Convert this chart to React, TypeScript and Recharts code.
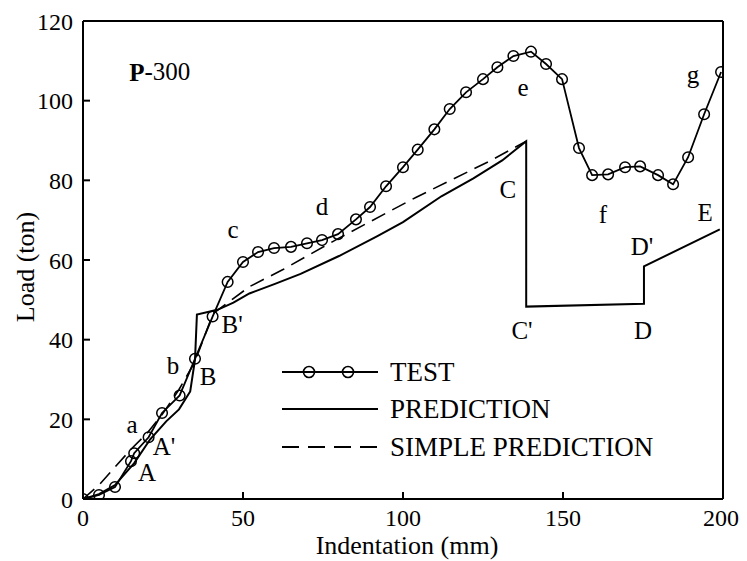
import React from 'react';
import { LineChart, Line, XAxis, YAxis, Legend, ReferenceDot } from 'recharts';

const FONT = 'Liberation Serif';

const xTicks = [0, 50, 100, 150, 200];
const yTicks = [0, 20, 40, 60, 80, 100, 120];
const topTicks = [50, 100, 150];
const rightTicks = [20, 40, 60, 80, 100];

const seriesNames = ['TEST', 'PREDICTION', 'SIMPLE PREDICTION'];

const testIndentation = [0, 5, 10, 15, 16, 20.5, 24.7, 30.2, 35, 40.5, 45.2, 50, 54.7, 59.7, 65, 70, 74.7, 79.7, 85.3, 89.7, 94.7, 100, 104.6, 109.8, 114.6, 119.7, 125, 129.5, 134.5, 140, 144.7, 149.7, 155, 159.1, 164.1, 169.4, 174.1, 179.7, 184.4, 189.1, 194.1, 199.4];
const testLoad = [0, 1, 3, 9.5, 11.5, 15.5, 21.6, 26, 35.2, 45.8, 54.5, 59.5, 62, 63, 63.3, 64.2, 65, 66.5, 70.2, 73.3, 78.5, 83.3, 87.7, 92.8, 97.9, 102.1, 105.4, 108.4, 111.2, 112.3, 109.2, 105.4, 88.1, 81.3, 81.5, 83.3, 83.5, 81.3, 79, 85.8, 96.6, 107.2];

const predIndentation = [0, 5, 10, 16, 21, 26, 30, 33.5, 35, 35.6, 42, 47, 52, 60, 68, 80, 92, 100, 112, 122, 131, 138.5, 138.5, 175.3, 175.3, 199];
const predLoad = [0, 1.2, 3.5, 9, 15, 19.5, 22.5, 27, 35, 46.3, 47.5, 49.3, 51.6, 54, 56.5, 61, 66, 69.5, 76, 80.5, 85, 89.8, 48.3, 49, 58.4, 67.7];

const simpleIndentation = [0, 5, 10, 15, 20, 25, 30, 35, 40.6, 52, 62.5, 80, 104, 127, 138.5];
const simpleLoad = [0, 3.5, 8, 12.5, 16.5, 21.5, 27.5, 34.5, 46.5, 53.3, 57.6, 65.5, 75.7, 84.8, 89.8];

const annotationText = ['a', "A'", 'A', 'b', 'B', "B'", 'c', 'd', 'C', "C'", 'e', 'f', 'D', "D'", 'E', 'g'];
const annotationX = [15.3, 25.3, 20, 28.1, 39.1, 46.6, 46.9, 74.7, 132.8, 137.2, 137.5, 162.5, 175, 174.7, 194.4, 190.6];
const annotationY = [18.9, 13.3, 6.8, 33.5, 30.9, 43.8, 67.7, 73.5, 77.7, 42.5, 103.4, 71.4, 42.5, 63.4, 71.9, 106.7];

const specimenX = 24;
const specimenY = 107.2;

const zip = (xs: number[], ys: number[]) => xs.map((x, i) => ({ x, y: ys[i] }));
const testData = zip(testIndentation, testLoad);
const predData = zip(predIndentation, predLoad);
const simpleData = zip(simpleIndentation, simpleLoad);

const tickStyle = { fill: '#000', fontSize: 24, fontFamily: FONT };

const renderLegend = (props: any) => {
  const payload = (props.payload || []).slice().sort(
    (a: any, b: any) => seriesNames.indexOf(a.value) - seriesNames.indexOf(b.value)
  );
  const rows = [19, 56, 94];
  return (
    <svg width={440} height={115} style={{ display: 'block' }}>
      {payload.map((entry: any, i: number) => {
        const y = rows[i];
        const name = entry.value;
        return (
          <g key={name}>
            <line
              x1={4}
              x2={100}
              y1={y}
              y2={y}
              stroke="#000"
              strokeWidth={2}
              strokeDasharray={name === 'SIMPLE PREDICTION' ? '17 9' : undefined}
            />
            {name === 'TEST' && (
              <>
                <circle cx={31} cy={y} r={5.5} fill="none" stroke="#000" strokeWidth={1.6} />
                <circle cx={70} cy={y} r={5.5} fill="none" stroke="#000" strokeWidth={1.6} />
              </>
            )}
            <text x={112} y={y} dy="0.35em" fontFamily={FONT} fontSize={27} fill="#000">
              {name}
            </text>
          </g>
        );
      })}
    </svg>
  );
};

export default function App() {
  return (
    <div style={{ fontFamily: FONT }}>
      <LineChart width={731} height={553} margin={{ top: 12, right: 15, bottom: 0, left: 0 }}>
        <XAxis
          xAxisId="b"
          type="number"
          dataKey="x"
          domain={[0, 200]}
          ticks={xTicks}
          orientation="bottom"
          height={62}
          tickSize={-7}
          tickMargin={17}
          axisLine={{ stroke: '#000', strokeWidth: 2 }}
          tickLine={{ stroke: '#000', strokeWidth: 2 }}
          tick={tickStyle}
          allowDataOverflow
          label={{
            content: (p: any) => {
              const vb = p.viewBox;
              return (
                <text x={vb.x + vb.width / 2 + 4} y={vb.y + 46} textAnchor="middle" dominantBaseline="central" fontFamily={FONT} fontSize={26} fill="#000">
                  Indentation (mm)
                </text>
              );
            },
          }}
        />
        <XAxis
          xAxisId="t"
          type="number"
          dataKey="x"
          domain={[0, 200]}
          ticks={topTicks}
          orientation="top"
          height={1}
          tickSize={-7}
          axisLine={{ stroke: '#000', strokeWidth: 2 }}
          tickLine={{ stroke: '#000', strokeWidth: 2 }}
          tick={false}
          allowDataOverflow
        />
        <YAxis
          yAxisId="l"
          type="number"
          domain={[0, 120]}
          ticks={yTicks}
          width={75}
          tickSize={-7}
          tickMargin={17}
          axisLine={{ stroke: '#000', strokeWidth: 2 }}
          tickLine={{ stroke: '#000', strokeWidth: 2 }}
          tick={tickStyle}
          allowDataOverflow
          label={{
            content: (p: any) => {
              const vb = p.viewBox;
              const cx = vb.x + 17;
              const cy = vb.y + vb.height / 2 + 7;
              return (
                <text x={cx} y={cy} transform={`rotate(-90 ${cx} ${cy})`} textAnchor="middle" dominantBaseline="central" fontFamily={FONT} fontSize={26} fill="#000">
                  Load (ton)
                </text>
              );
            },
          }}
        />
        <YAxis
          yAxisId="r"
          orientation="right"
          type="number"
          domain={[0, 120]}
          ticks={rightTicks}
          width={1}
          tickSize={-7}
          axisLine={{ stroke: '#000', strokeWidth: 2 }}
          tickLine={{ stroke: '#000', strokeWidth: 2 }}
          tick={false}
          allowDataOverflow
        />
        <Legend
          layout="horizontal"
          verticalAlign="middle"
          align="center"
          content={renderLegend}
          wrapperStyle={{ left: 270, top: 345, width: 440, height: 115 }}
        />
        <Line
          xAxisId="b"
          yAxisId="l"
          name="TEST"
          data={testData}
          dataKey="y"
          type="linear"
          stroke="#000"
          strokeWidth={1.8}
          dot={{ r: 5.3, stroke: '#000', strokeWidth: 1.5, fill: 'none' }}
          isAnimationActive={false}
        />
        <Line
          xAxisId="b"
          yAxisId="l"
          name="PREDICTION"
          data={predData}
          dataKey="y"
          type="linear"
          stroke="#000"
          strokeWidth={2}
          dot={false}
          isAnimationActive={false}
        />
        <Line
          xAxisId="b"
          yAxisId="l"
          name="SIMPLE PREDICTION"
          data={simpleData}
          dataKey="y"
          type="linear"
          stroke="#000"
          strokeWidth={1.6}
          strokeDasharray="15 8"
          dot={false}
          isAnimationActive={false}
        />
        {annotationText.map((t, i) => (
          <ReferenceDot
            key={t + i}
            xAxisId="b"
            yAxisId="l"
            x={annotationX[i]}
            y={annotationY[i]}
            r={0}
            fill="none"
            stroke="none"
            ifOverflow="visible"
            label={{ value: t, position: 'center', fontSize: 25, fontFamily: FONT, fill: '#000' }}
          />
        ))}
        <ReferenceDot
          xAxisId="b"
          yAxisId="l"
          x={specimenX}
          y={specimenY}
          r={0}
          fill="none"
          stroke="none"
          ifOverflow="visible"
          label={{
            content: (p: any) => {
              const vb = p.viewBox;
              return (
                <text x={vb.x} y={vb.y} textAnchor="middle" dominantBaseline="central" fontFamily={FONT} fontSize={25} fill="#000">
                  <tspan fontWeight="bold">P</tspan>-300
                </text>
              );
            },
          }}
        />
      </LineChart>
    </div>
  );
}
